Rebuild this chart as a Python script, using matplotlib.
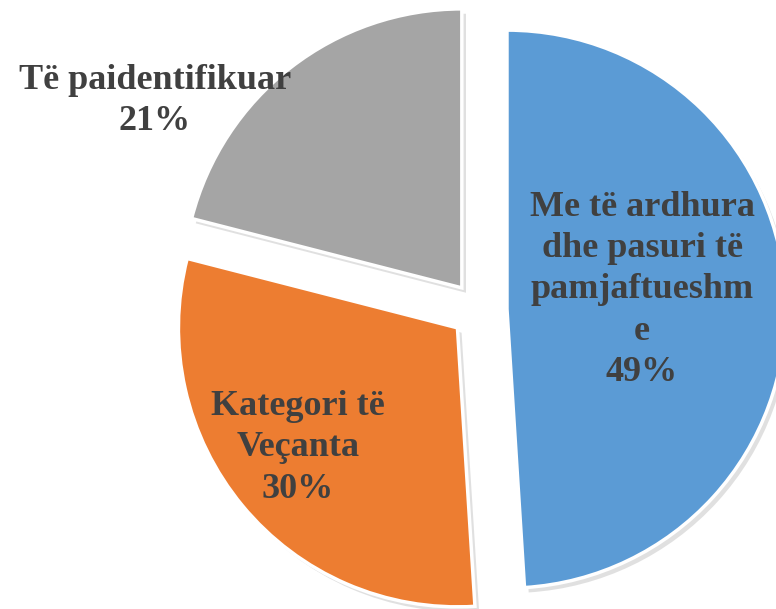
import matplotlib
matplotlib.use('Agg')
import matplotlib.pyplot as plt

# Të dhënat
kategorite = ['Me të ardhura\ndhe pasuri të\npamjaftueshm\ne', 'Kategori të\nVeçanta', 'Të paidentifikuar']
vlerat = [49, 30, 21]
ngjyrat = ['#5B9BD5', '#ED7D31', '#A5A5A5']

# Pozicionet e etiketave (në piksela)
pozicionet = [(642, 319), (298, 161), (155, 508)]

fig = plt.figure(figsize=(7.76, 6.09), dpi=100)
ax = fig.add_axes([0, 0, 1, 1])

wedges, _ = ax.pie(
    vlerat,
    colors=ngjyrat,
    startangle=90,
    counterclock=False,
    explode=[28, 28, 28],
    center=(479, 299),
    radius=279,
    wedgeprops={'edgecolor': 'white', 'linewidth': 2.5},
    shadow={'ox': 3, 'oy': -3.5, 'facecolor': '#9a9a9a', 'edgecolor': 'none', 'alpha': 0.3},
)

total = sum(vlerat)
for emri, v, (x, y) in zip(kategorite, vlerat, pozicionet):
    ax.text(x, y, f'{emri}\n{round(100 * v / total)}%', ha='center', va='center',
            multialignment='center', fontsize=26, fontweight='bold',
            family='Liberation Serif', color='#404040', linespacing=1.33)

ax.set_xlim(0, 776)
ax.set_ylim(0, 609)
ax.set_aspect('equal')
ax.axis('off')

fig.savefig('out.png', dpi=100)
